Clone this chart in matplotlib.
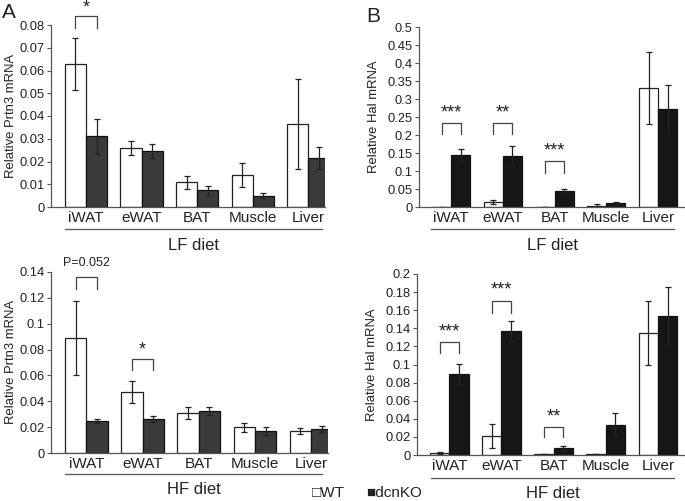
import numpy as np
import matplotlib
matplotlib.use("Agg")
import matplotlib.pyplot as plt

plt.rcParams['font.family'] = ['Liberation Sans', 'DejaVu Sans']

tissues = ["iWAT", "eWAT", "BAT", "Muscle", "Liver"]

# Prtn3, LF diet
prtn3_lf_wt = [0.063, 0.026, 0.0108, 0.0142, 0.0365]
prtn3_lf_wt_err = [0.0115, 0.003, 0.0027, 0.0053, 0.0197]
prtn3_lf_ko = [0.031, 0.0246, 0.0073, 0.0049, 0.0215]
prtn3_lf_ko_err = [0.0077, 0.003, 0.002, 0.0011, 0.005]

# Prtn3, HF diet
prtn3_hf_wt = [0.089, 0.047, 0.031, 0.020, 0.017]
prtn3_hf_wt_err = [0.0285, 0.0085, 0.0045, 0.0035, 0.002]
prtn3_hf_ko = [0.0245, 0.0265, 0.0325, 0.017, 0.0185]
prtn3_hf_ko_err = [0.0015, 0.0025, 0.003, 0.003, 0.0025]

# Hal, LF diet
hal_lf_wt = [0.001, 0.013, 0.001, 0.003, 0.33]
hal_lf_wt_err = [0.0, 0.006, 0.0, 0.004, 0.10]
hal_lf_ko = [0.1435, 0.142, 0.045, 0.011, 0.271]
hal_lf_ko_err = [0.0165, 0.028, 0.006, 0.002, 0.067]

# Hal, HF diet
hal_hf_wt = [0.002, 0.021, 0.001, 0.001, 0.135]
hal_hf_wt_err = [0.001, 0.013, 0.0, 0.0, 0.035]
hal_hf_ko = [0.0897, 0.137, 0.0074, 0.0336, 0.154]
hal_hf_ko_err = [0.0113, 0.011, 0.0022, 0.0124, 0.032]

prtn3_lf_ticks = [0, 0.01, 0.02, 0.03, 0.04, 0.05, 0.06, 0.07, 0.08]
prtn3_hf_ticks = [0, 0.02, 0.04, 0.06, 0.08, 0.1, 0.12, 0.14]
hal_lf_ticks = [0, 0.05, 0.1, 0.15, 0.2, 0.25, 0.3, 0.35, 0.4, 0.45, 0.5]
hal_lf_ticklabels = ["0", "0.05", "0.1", "0.15", "0.2", "0.25", "0.3", "0.35", "0,4", "0.45", "0.5"]
hal_hf_ticks = [0, 0.02, 0.04, 0.06, 0.08, 0.1, 0.12, 0.14, 0.16, 0.18, 0.2]

fig = plt.figure(figsize=(6.85, 5.01), dpi=100)

spine_col = "#555555"
txt_col = "#222222"


def panel(rect, wt, wt_err, ko, ko_err, ko_col, ylim, ticks, ticklabels, ylabel,
          label_x, xlim, width, diet, line_y, text_y, line_x):
    ax = fig.add_axes(rect)
    x = np.arange(len(tissues))
    ax.bar(x - width / 2, wt, width, color="white", edgecolor="#222222", linewidth=0.9)
    ax.bar(x + width / 2, ko, width, color=ko_col, edgecolor="#111111", linewidth=0.9)
    ax.errorbar(x - width / 2, wt, yerr=wt_err, fmt="none", ecolor="#222222",
                elinewidth=0.9, capsize=2.5, capthick=0.9)
    ax.errorbar(x + width / 2, ko, yerr=ko_err, fmt="none", ecolor="#222222",
                elinewidth=0.9, capsize=2.5, capthick=0.9)
    ax.set_xlim(*xlim)
    ax.set_ylim(*ylim)
    ax.set_yticks(ticks)
    ax.set_yticklabels(ticklabels if ticklabels else
                       [("%g" % t) for t in ticks], fontsize=9.3, color=txt_col)
    ax.set_xticks(x)
    ax.set_xticklabels(tissues, fontsize=11, color=txt_col)
    ax.tick_params(axis="x", length=0, pad=3)
    ax.tick_params(axis="y", length=3, width=0.8, color=spine_col, pad=1.5)
    for s in ["top", "right"]:
        ax.spines[s].set_visible(False)
    for s in ["left", "bottom"]:
        ax.spines[s].set_color(spine_col)
        ax.spines[s].set_linewidth(0.9)
    ax.set_ylabel(ylabel, fontsize=9.4, color=txt_col)
    ax.yaxis.set_label_coords((label_x - rect[0] * 685) / (rect[2] * 685), 0.5)
    fig.add_artist(plt.Line2D([line_x[0] / 685, line_x[1] / 685],
                              [1 - line_y / 501, 1 - line_y / 501],
                              color=spine_col, linewidth=0.9))
    fig.text((line_x[0] + line_x[1]) / 2 / 685, 1 - text_y / 501, diet,
             ha="center", va="center", fontsize=12, color=txt_col)
    return ax


def bracket(ax, i, width, top, leg, label, label_y):
    x0 = i - width / 2
    x1 = i + width / 2
    ax.plot([x0, x0, x1, x1], [leg, top, top, leg], color="#444444", lw=0.9,
            clip_on=False)
    ax.text(i, label_y, label, ha="center", va="center", fontsize=13,
            color=txt_col, clip_on=False)


wA = 0.38
xlimA = (-0.63, 4.3)
axA1 = panel([51 / 685, 1 - 207 / 501, 274 / 685, 182 / 501],
             prtn3_lf_wt, prtn3_lf_wt_err, prtn3_lf_ko, prtn3_lf_ko_err, "#3a3a3a",
             (0, 0.08), prtn3_lf_ticks, None, "Relative Prtn3 mRNA", 17,
             xlimA, wA, "LF diet", 229, 245, (65, 322))
bracket(axA1, 0, wA, 0.084, 0.0785, "*", 0.0875)

axA2 = panel([51 / 685, 1 - 453 / 501, 277 / 685, 181 / 501],
             prtn3_hf_wt, prtn3_hf_wt_err, prtn3_hf_ko, prtn3_hf_ko_err, "#3a3a3a",
             (0, 0.14), prtn3_hf_ticks, None, "Relative Prtn3 mRNA", 17,
             xlimA, wA, "HF diet", 474, 490, (65, 322))
bracket(axA2, 0, wA, 0.136, 0.127, "", 0.1)
axA2.text(0, 0.1422, "P=0.052", ha="center", va="bottom", fontsize=9,
          color=txt_col, clip_on=False)
bracket(axA2, 1, wA, 0.073, 0.064, "*", 0.080)

wB = 0.37
xlimB = (-0.62, 4.52)
axB1 = panel([419 / 685, 1 - 207 / 501, 266 / 685, 180 / 501],
             hal_lf_wt, hal_lf_wt_err, hal_lf_ko, hal_lf_ko_err, "#161616",
             (0, 0.5), hal_lf_ticks, hal_lf_ticklabels, "Relative Hal mRNA", 380,
             xlimB, wB, "LF diet", 229, 245, (431, 674))
bracket(axB1, 0, wB, 0.234, 0.204, "***", 0.262)
bracket(axB1, 1, wB, 0.234, 0.204, "**", 0.262)
bracket(axB1, 2, wB, 0.127, 0.095, "***", 0.156)

axB2 = panel([417 / 685, 1 - 455 / 501, 268 / 685, 181 / 501],
             hal_hf_wt, hal_hf_wt_err, hal_hf_ko, hal_hf_ko_err, "#161616",
             (0, 0.2), hal_hf_ticks, None, "Relative Hal mRNA", 378,
             xlimB, wB, "HF diet", 478, 493, (431, 674))
bracket(axB2, 0, wB, 0.125, 0.113, "***", 0.1355)
bracket(axB2, 1, wB, 0.17, 0.157, "***", 0.1825)
bracket(axB2, 2, wB, 0.031, 0.020, "**", 0.0425)

# panel letters
fig.text(2 / 685, 1 - 13 / 501, "A", fontsize=15, va="center", ha="left", color=txt_col)
fig.text(366 / 685, 1 - 16 / 501, "B", fontsize=15, va="center", ha="left", color=txt_col)

# legend
fig.text(312 / 685, 1 - 493 / 501, "\u25a1WT", fontsize=11, va="center", ha="left",
         color=txt_col)
fig.text(366 / 685, 1 - 493 / 501, "\u25a0dcnKO", fontsize=11, va="center", ha="left",
         color=txt_col)

fig.savefig("out.png", dpi=100)
